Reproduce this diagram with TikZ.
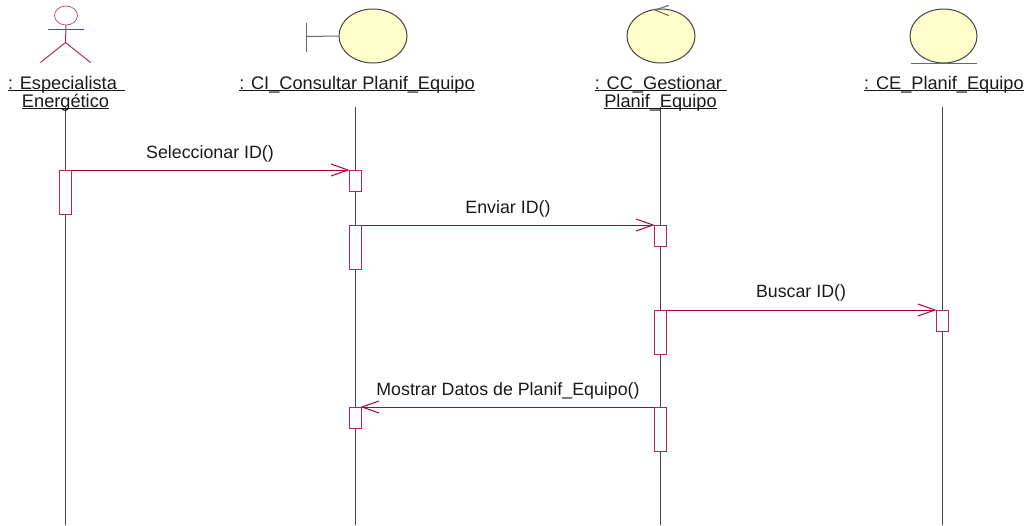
\documentclass[tikz,border=0pt]{standalone}
\usepackage{fontspec}
\setmainfont{Liberation Sans}
\usetikzlibrary{arrows.meta,shapes.geometric}
\definecolor{umlred}{HTML}{A80036}
\definecolor{umlbox}{HTML}{C2557A}
\definecolor{umlfill}{HTML}{FFFFCC}
\definecolor{umlgray}{HTML}{444444}
\newcommand{\ul}[1]{\underline{\smash{#1}}}
\tikzset{
  x=1pt,y=1pt,
  txt/.style={font=\fontsize{17.8}{18}\selectfont,text=black!90,inner sep=0pt,anchor=base},
  nametxt/.style={txt,font=\fontsize{18.2}{18}\selectfont},
  life/.style={draw=umlgray,line width=1pt},
  activation/.style={draw=umlred!85!white,fill=white,line width=1pt,minimum width=12pt,inner sep=0pt,anchor=north},
  msg/.style={draw=umlred,line width=1pt,shorten >=-1pt,-{Straight Barb[length=17pt,width=12pt,line width=1pt]}},
  robust/.style={draw=umlgray,fill=umlfill,line width=1pt},
  part/.style={draw=umlgray!80!white,line width=1pt},
  actorpart/.style={draw=umlred!85!white,line width=1pt},
}
\begin{document}
\begin{tikzpicture}
\useasboundingbox (0,0) rectangle (1028,-525);
% lifelines
\coordinate (l1a) at (65.5,-107); \coordinate (l1b) at (65.5,-525);
\coordinate (l2a) at (355,-107); \coordinate (l2b) at (355,-525);
\coordinate (l3a) at (660.5,-107); \coordinate (l3b) at (660.5,-525);
\coordinate (l4a) at (942.5,-107); \coordinate (l4b) at (942.5,-525);
\draw[life] (l1a) -- (l1b);
\draw[life] (l2a) -- (l2b);
\draw[life] (l3a) -- (l3b);
\draw[life] (l4a) -- (l4b);
% actor
\node[draw=umlbox,line width=.8pt,ellipse,minimum width=23pt,minimum height=19pt,inner sep=0pt] (head) at (66,-15.5) {};
\coordinate (hip) at (65.5,-42.5);
\coordinate (armL) at (47.5,-29.7); \coordinate (armR) at (83.5,-29.7);
\coordinate (legL) at (40.5,-62.5); \coordinate (legR) at (90.5,-62.5);
\draw[actorpart] (head.south) -- (hip);
\draw[actorpart] (armL) -- (armR);
\draw[actorpart] (legL) -- (hip) -- (legR);
% boundary
\node[robust,ellipse,minimum width=68pt,minimum height=54pt,inner sep=0pt] (ci) at (373,-36) {};
\coordinate (barT) at (306,-23); \coordinate (barB) at (306,-52); \coordinate (barM) at (306,-36.5);
\draw[part] (barT) -- (barB);
\draw[part] (barM) -- (ci.west);
% control
\node[robust,ellipse,minimum width=68pt,minimum height=54pt,inner sep=0pt] (cc) at (661,-36) {};
\coordinate (ccA) at (655,-10); \coordinate (ccB) at (669,-5.3); \coordinate (ccC) at (669,-15.7);
\draw[part] (ccB) -- (ccA) -- (ccC);
% entity
\node[robust,ellipse,minimum width=67pt,minimum height=54pt,inner sep=0pt] (ce) at (943.5,-36) {};
\coordinate (ceL) at (911,-63.5); \coordinate (ceR) at (977,-63.5);
\draw[part] (ceL) -- (ceR);
% names
\node[nametxt] (n1a) at (66.5,-89) {\ul{: Especialista\hspace{3pt} }};
\node[nametxt] (n1b) at (65.5,-107) {\ul{Energético}};
\node[nametxt] (n2) at (357,-89) {\ul{: CI\_Consultar Planif\_Equipo}};
\node[nametxt] (n3a) at (661,-89) {\ul{: CC\_Gestionar }};
\node[nametxt] (n3b) at (660.5,-107) {\ul{Planif\_Equipo}};
\node[nametxt] (n4) at (944,-89) {\ul{: CE\_Planif\_Equipo}};
% activations
\node[activation,minimum height=44pt] (a1) at (65,-170) {};
\node[activation,minimum height=21pt] (b1) at (355,-170) {};
\node[activation,minimum height=44pt] (b2) at (355,-225) {};
\node[activation,minimum height=21pt] (c1) at (660,-225) {};
\node[activation,minimum height=44pt] (c2) at (660,-310) {};
\node[activation,minimum height=21pt] (d1) at (942,-310) {};
\node[activation,minimum height=44pt] (c3) at (660,-407) {};
\node[activation,minimum height=21pt] (b3) at (355,-407) {};
% messages
\draw[msg] (a1.north east) -- (b1.north west);
\draw[msg] (b2.north east) -- (c1.north west);
\draw[msg] (c2.north east) -- (d1.north west);
\draw[msg] (c3.north west) -- (b3.north east);
% message labels
\node[txt] (m1) at (210,-158) {Seleccionar ID()};
\node[txt] (m2) at (508,-213) {Enviar ID()};
\node[txt] (m3) at (801,-297) {Buscar ID()};
\node[txt] (m4) at (508,-395) {Mostrar Datos de Planif\_Equipo()};
\end{tikzpicture}
\end{document}
